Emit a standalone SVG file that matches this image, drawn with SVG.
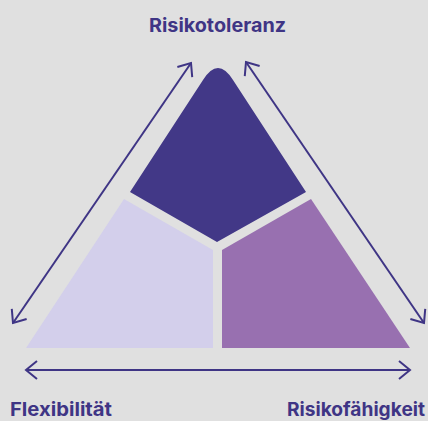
<svg xmlns="http://www.w3.org/2000/svg" width="428" height="421" viewBox="0 0 428 421">
<style>
.lbl{font-family:Inter,"Liberation Sans",sans-serif;font-weight:700;font-size:19px;fill:#3f3585}
.ln{stroke:#3f3585;stroke-width:2;fill:none}
</style>
<defs>
<marker id="ah" viewBox="0 0 14 20" refX="12" refY="10" markerWidth="14" markerHeight="20" markerUnits="userSpaceOnUse" orient="auto-start-reverse">
<path d="M1 1 L12 10 L1 19" fill="none" stroke="#3f3585" stroke-width="2"/>
</marker>
</defs>
<rect width="428" height="421" fill="#e0e0e0"/>
<g id="node-risikotoleranz">
<path d="M130 192 L203 80 Q218 56 233 80 L306 192 L217 242 Z" fill="#423887"/>
<text class="lbl" x="149" y="32" textLength="137" lengthAdjust="spacingAndGlyphs">Risikotoleranz</text>
</g>
<g id="node-flexibilitaet">
<path d="M124 199 L213 250 L213 348 L26 348 Z" fill="#d3cfeb"/>
<text class="lbl" x="10" y="416" textLength="102" lengthAdjust="spacingAndGlyphs">Flexibilität</text>
</g>
<g id="node-risikofaehigkeit">
<path d="M311 199 L222 250 L222 348 L410 348 Z" fill="#9870b0"/>
<text class="lbl" x="287" y="416" textLength="138" lengthAdjust="spacingAndGlyphs">Risikofähigkeit</text>
</g>
<g id="connectors">
<line class="ln" x1="13" y1="323" x2="191" y2="63" marker-start="url(#ah)" marker-end="url(#ah)"/>
<line class="ln" x1="246" y1="62" x2="424" y2="323" marker-start="url(#ah)" marker-end="url(#ah)"/>
<line class="ln" x1="26" y1="370" x2="410" y2="370" marker-start="url(#ah)" marker-end="url(#ah)"/>
</g>
</svg>
